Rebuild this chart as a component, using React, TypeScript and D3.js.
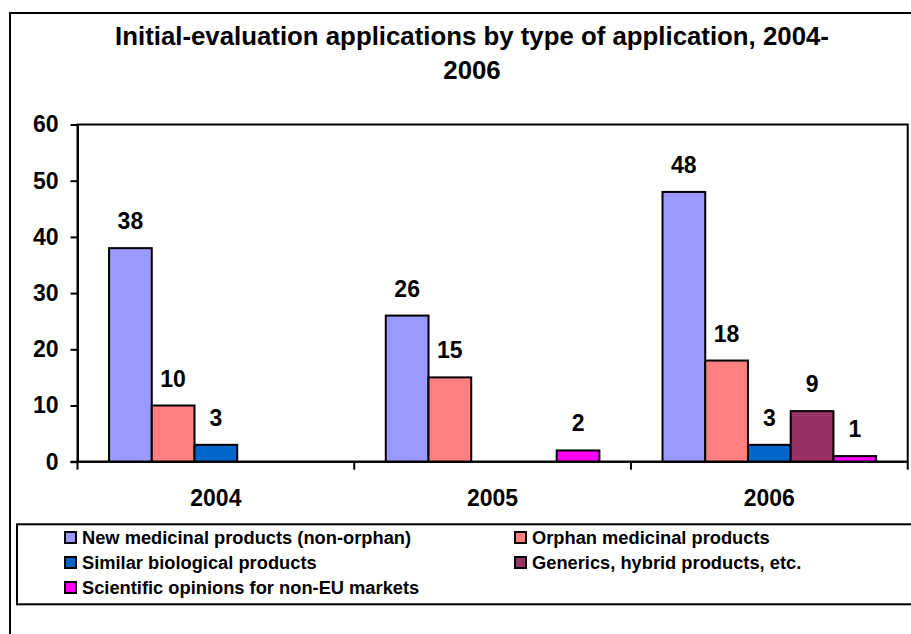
import React, { useEffect, useRef } from "react";
import * as d3 from "d3";

const categories = ["2004", "2005", "2006"];
const seriesNames = [
  "New medicinal products (non-orphan)",
  "Orphan medicinal products",
  "Similar biological products",
  "Generics, hybrid products, etc.",
  "Scientific opinions for non-EU markets",
];
const newMedicinal = [38, 26, 48];
const orphan = [10, 15, 18];
const similarBio = [3, null, 3];
const generics = [null, null, 9];
const sciOpinions = [null, 2, 1];
const colors = ["#9999FF", "#FF8080", "#0066CC", "#993366", "#FF00FF"];
const yTicks = [0, 10, 20, 30, 40, 50, 60];

const FONT = "'Liberation Sans', Arial, sans-serif";

function Chart() {
  const svgRef = useRef(null);

  useEffect(() => {
    const svg = d3.select(svgRef.current);
    svg.selectAll("*").remove();

    const series = [newMedicinal, orphan, similarBio, generics, sciOpinions];
    const left = 77.5;
    const right = 907.7;
    const top = 124.5;
    const bottom = 461.7;

    // outer chart border
    svg.append("rect")
      .attr("x", 10).attr("y", 13)
      .attr("width", 960).attr("height", 660)
      .attr("fill", "#fff").attr("stroke", "#000").attr("stroke-width", 2);

    // title
    const title = svg.append("text")
      .attr("text-anchor", "middle")
      .attr("font-family", FONT)
      .attr("font-weight", "bold")
      .attr("font-size", 25.8);
    title.append("tspan").attr("x", 472).attr("y", 45)
      .text("Initial-evaluation applications by type of application, 2004-");
    title.append("tspan").attr("x", 472).attr("y", 78.5).text("2006");

    const x0 = d3.scaleBand().domain(categories).range([left, right]);
    const gap = x0.bandwidth() * 0.114;
    const x1 = d3.scaleBand()
      .domain(d3.range(series.length))
      .range([gap, x0.bandwidth() - gap]);

    const y = d3.scaleLinear().domain([0, 60]).range([bottom, top]);

    // plot area frame
    svg.append("rect")
      .attr("x", left).attr("y", top)
      .attr("width", right - left).attr("height", bottom - top)
      .attr("fill", "none").attr("stroke", "#000").attr("stroke-width", 2);

    // y axis
    const yAxis = svg.append("g")
      .attr("transform", `translate(${left},0)`)
      .call(d3.axisLeft(y).tickValues(yTicks).tickSize(7).tickSizeOuter(0).tickPadding(12));
    yAxis.select(".domain").attr("stroke-width", 2);
    yAxis.selectAll(".tick line").attr("stroke-width", 2);
    yAxis.selectAll(".tick text")
      .attr("font-family", FONT)
      .attr("font-weight", "bold")
      .attr("font-size", 23)
      .attr("fill", "#000");

    // bars
    series.forEach((vals, si) => {
      const g = svg.append("g");
      categories.forEach((cat, ci) => {
        const v = vals[ci];
        if (v == null) return;
        const bx = x0(cat) + x1(si);
        g.append("rect")
          .attr("x", bx).attr("y", y(v))
          .attr("width", x1.bandwidth()).attr("height", bottom - y(v))
          .attr("fill", colors[si]).attr("stroke", "#000").attr("stroke-width", 2);
        g.append("text")
          .attr("x", bx + x1.bandwidth() / 2)
          .attr("y", y(v) - 19)
          .attr("text-anchor", "middle")
          .attr("font-family", FONT)
          .attr("font-weight", "bold")
          .attr("font-size", 23)
          .text(v);
      });
    });

    // category axis
    svg.append("line")
      .attr("x1", left - 7).attr("x2", right)
      .attr("y1", bottom).attr("y2", bottom)
      .attr("stroke", "#000").attr("stroke-width", 2);
    const bounds = categories.map((c) => x0(c)).concat([right]);
    svg.selectAll(".cat-tick").data(bounds).enter().append("line")
      .attr("x1", (d) => d).attr("x2", (d) => d)
      .attr("y1", bottom).attr("y2", bottom + 8)
      .attr("stroke", "#000").attr("stroke-width", 2);
    svg.selectAll(".cat-label").data(categories).enter().append("text")
      .attr("x", (d) => x0(d) + x0.bandwidth() / 2)
      .attr("y", 506)
      .attr("text-anchor", "middle")
      .attr("font-family", FONT)
      .attr("font-weight", "bold")
      .attr("font-size", 23)
      .text((d) => d);

    // legend
    svg.append("rect")
      .attr("x", 17).attr("y", 524.3)
      .attr("width", 960).attr("height", 80)
      .attr("fill", "#fff").attr("stroke", "#000").attr("stroke-width", 2);
    const legendX = [65, 515];
    const legendY = [537.5, 562.5, 587.5];
    seriesNames.forEach((name, i) => {
      const lx = legendX[i % 2];
      const ly = legendY[Math.floor(i / 2)];
      svg.append("rect")
        .attr("x", lx).attr("y", ly - 5.5)
        .attr("width", 11).attr("height", 11)
        .attr("fill", colors[i]).attr("stroke", "#000").attr("stroke-width", 2);
      svg.append("text")
        .attr("x", lx + 17).attr("y", ly + 6.5)
        .attr("font-family", FONT)
        .attr("font-weight", "bold")
        .attr("font-size", 18.3)
        .text(name);
    });
  }, []);

  return <svg ref={svgRef} width="911" height="634" style={{ display: "block" }}></svg>;
}

export default function App() {
  return (
    <div style={{ position: "absolute", left: 0, top: 0, width: 911, height: 634, overflow: "hidden", background: "#fff" }}>
      <Chart />
    </div>
  );
}
